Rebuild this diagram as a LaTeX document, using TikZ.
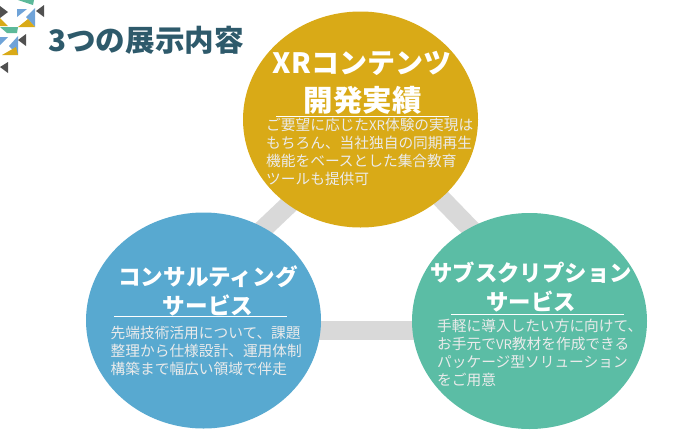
\documentclass[tikz,border=0pt]{standalone}
\usepackage{fontspec}
\setmainfont{Noto Sans CJK JP}
\usetikzlibrary{shapes.geometric}
\definecolor{gold}{HTML}{D9AA17}
\definecolor{sky}{HTML}{58A9D0}
\definecolor{teal}{HTML}{5BBDA5}
\definecolor{link}{HTML}{D9D9D9}
\definecolor{titlec}{HTML}{2E5A6B}
\definecolor{dgray}{HTML}{505050}
\definecolor{lblue}{HTML}{6FA3D8}
\definecolor{lgreen}{HTML}{5CB99A}
\newcommand{\latinsmall}[1]{{\fontsize{13.2}{18}\selectfont #1}}
\tikzset{
 bub/.style={ellipse,minimum width=235pt,minimum height=216pt,inner sep=0pt},
 head/.style={text=white,align=center,inner sep=0pt,font=\bfseries\fontsize{#1}{#1}\selectfont},
 body/.style={text=white!92!black,align=left,anchor=north west,inner sep=0pt,font=\fontsize{14.7}{18}\selectfont},
 rulew/.style={white,line width=0.6pt},
 conn/.style={link,line width=19pt}
}
\begin{document}
\begin{tikzpicture}[x=1pt,y=-1pt]
\useasboundingbox (0,0) rectangle (690,442);
\coordinate (l1a) at (320,175);
\coordinate (l1b) at (240,251);
\coordinate (l2a) at (400,156);
\coordinate (l2b) at (500,259);
\coordinate (l3a) at (300,330);
\coordinate (l3b) at (440,330);
\draw[conn] (l1a) -- (l1b);
\draw[conn] (l2a) -- (l2b);
\draw[conn] (l3a) -- (l3b);
\node[bub,fill=gold] (ng) at (360.5,119.5) {};
\node[bub,fill=sky] (nb) at (203.5,320.5) {};
\node[bub,fill=teal] (nt) at (529.5,321) {};
% logo
\fill[lblue] (35,8) -- (35,27) -- (26,17) -- cycle;
\fill[lblue] (17,9) -- (27,9) -- (17,17) -- cycle;
\fill[lgreen] (18,0) -- (34,0) -- (33,5) -- cycle;
\fill[gold] (18,27) -- (35,27) -- (28,19) -- cycle;
\fill[dgray] (44,5) -- (44,17) -- (36,11) -- cycle;
\fill[dgray] (0,6) -- (8,12) -- (0,18) -- cycle;
\fill[gold] (0,18) -- (8,26) -- (0,26) -- cycle;
\fill[lgreen] (0,27) -- (18,27) -- (17,33) -- (7,33) -- cycle;
\fill[lblue] (0,37) -- (8,37) -- (0,45) -- cycle;
\fill[lblue] (18,36) -- (18,55) -- (9,46) -- cycle;
\fill[gold] (2,55) -- (18,55) -- (16,47) -- cycle;
\fill[dgray] (26,34) -- (26,46) -- (18,40) -- cycle;
\fill[dgray] (8,62) -- (8,73) -- (0,67) -- cycle;
\node[anchor=west,text=titlec,font=\bfseries\fontsize{29.6}{29.6}\selectfont,inner sep=0pt] (title) at (48,40) {3つの展示内容};
% gold
\node[head=28] (h1a) at (362,63) {XRコンテンツ};
\node[head=29.5] (h1b) at (362.5,100) {開発実績};
\draw[rulew] (276,116) -- (449,116);
\node[body] (b1) at (266,118) {ご要望に応じた\latinsmall{XR}体験の実現は\\もちろん、当社独自の同期再生\\機能をベースとした集合教育\\ツールも提供可};
% blue
\node[head=22.6] (h2a) at (208,277) {コンサルティング};
\node[head=22.6] (h2b) at (208,305) {サービス};
\draw[rulew] (114,316) -- (287,316);
\node[body] (b2) at (110.5,326) {先端技術活用について、課題\\整理から仕様設計、運用体制\\構築まで幅広い領域で伴走};
% teal
\node[head=22.4] (h3a) at (531,273) {サブスクリプション};
\node[head=22.4] (h3b) at (531,302) {サービス};
\draw[rulew] (451,314) -- (624,314);
\node[body] (b3) at (437,319) {手軽に導入したい方に向けて、\\お手元で\latinsmall{VR}教材を作成できる\\パッケージ型ソリューション\\をご用意};
\end{tikzpicture}
\end{document}
